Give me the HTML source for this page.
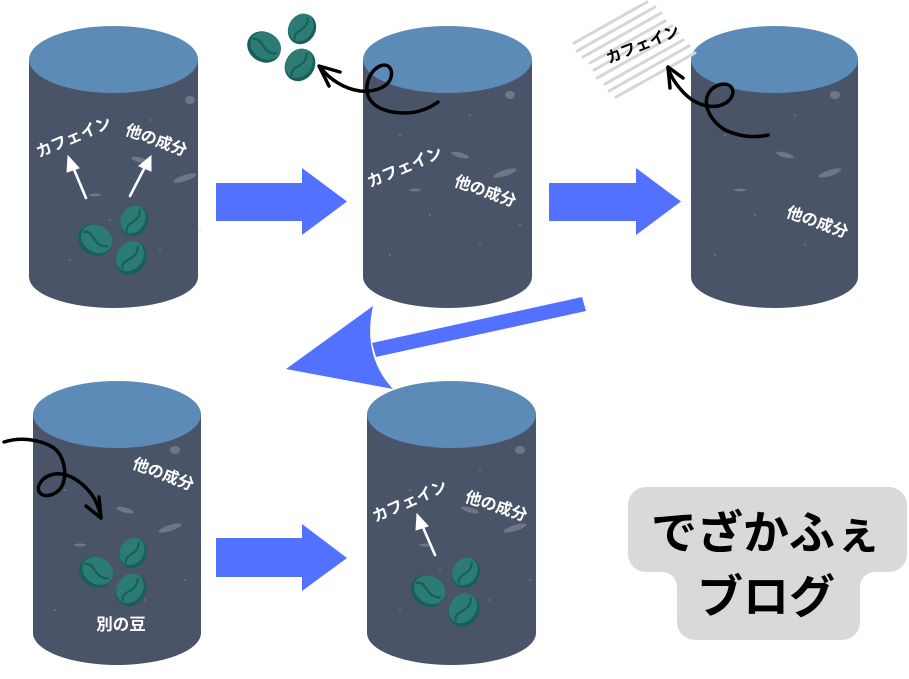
<!DOCTYPE html>
<html><head><meta charset="utf-8">
<style>
html,body{margin:0;padding:0;background:#fff;}
svg{display:block;}
.lbl{font-family:"Liberation Sans","Noto Sans CJK JP",sans-serif;font-weight:bold;fill:#fff;}
.logo{font-family:"Liberation Sans","Noto Sans CJK JP",sans-serif;font-weight:bold;fill:#000;}
</style></head>
<body>
<svg width="909" height="679" viewBox="0 0 909 679" xmlns="http://www.w3.org/2000/svg">
<defs>
  <g id="bean">
    <ellipse cx="0" cy="0" rx="17" ry="14.5" fill="#15605a"/>
    <ellipse cx="0.8" cy="-1.8" rx="15.6" ry="12.8" fill="#2c7b74"/>
    <path d="M-13 -1 C-6 -8, 2 7, 13 -1" fill="none" stroke="#15605a" stroke-width="2.2" stroke-linecap="round"/>
  </g>
  <g id="streaks" fill="#a3abb9" opacity="0.4">
    <ellipse cx="0" cy="0" rx="9" ry="2.5" transform="rotate(15)"/>
    <ellipse cx="45" cy="18" rx="12" ry="3" transform="rotate(-18 45 18)"/>
    <ellipse cx="-45" cy="35" rx="6" ry="1.5"/>
    <ellipse cx="50" cy="-60" rx="5" ry="4"/>
    <circle cx="-60" cy="-20" r="1"/><circle cx="-30" cy="60" r="1"/><circle cx="20" cy="90" r="1"/>
    <circle cx="-70" cy="100" r="1"/><circle cx="10" cy="-40" r="1"/><circle cx="60" cy="70" r="1"/>
  </g>
</defs>

<!-- Cylinder 1 -->
<path d="M29 59.5 L29 277 A84.5 31 0 0 0 198 277 L198 59.5 Z" fill="#4a5468"/>
<ellipse cx="113.5" cy="59.5" rx="84.5" ry="33.5" fill="#5d8bb7"/>
<use href="#streaks" x="140" y="160"/>
<!-- Cylinder 2 -->
<path d="M363 59.5 L363 277 A84.5 31 0 0 0 532 277 L532 59.5 Z" fill="#4a5468"/>
<ellipse cx="447.5" cy="59.5" rx="84.5" ry="33.5" fill="#5d8bb7"/>
<use href="#streaks" x="460" y="155"/>
<!-- Cylinder 3 -->
<path d="M691 59.5 L691 277 A83.5 31 0 0 0 858 277 L858 59.5 Z" fill="#4a5468"/>
<ellipse cx="774.5" cy="59.5" rx="83.5" ry="33.5" fill="#5d8bb7"/>
<use href="#streaks" x="785" y="155"/>
<!-- Cylinder 4 -->
<path d="M33 414.5 L33 633 A84 32 0 0 0 201 633 L201 414.5 Z" fill="#4a5468"/>
<ellipse cx="117" cy="414.5" rx="84" ry="33.5" fill="#5d8bb7"/>
<use href="#streaks" x="125" y="510"/>
<!-- Cylinder 5 -->
<path d="M367 414.5 L367 633 A84.5 32 0 0 0 536 633 L536 414.5 Z" fill="#4a5468"/>
<ellipse cx="451.5" cy="414.5" rx="84.5" ry="33.5" fill="#5d8bb7"/>
<use href="#streaks" x="470" y="510"/>

<!-- Blue arrows -->
<polygon points="216,183 302,183 302,168 347,201.5 302,235 302,221 216,221" fill="#5271ff"/>
<polygon points="549,183 636,183 636,168 681,201.5 636,235 636,221 549,221" fill="#5271ff"/>
<polygon points="216,538 302,538 302,524 347,558 302,591 302,577 216,577" fill="#5271ff"/>
<polygon points="372,343 582,297 586,311 376,357" fill="#5271ff"/>
<path d="M286 369 L373 306 Q362 356 393 389 Z" fill="#5271ff"/>

<!-- Beans cyl 1 -->
<use href="#bean" transform="translate(95 240) rotate(32) scale(1.05)"/>
<use href="#bean" transform="translate(134 221) rotate(-58) scale(0.93)"/>
<use href="#bean" transform="translate(131 258) rotate(-55) scale(1.02)"/>
<!-- Top beans -->
<use href="#bean" transform="translate(264 47) rotate(32) scale(1.03)"/>
<use href="#bean" transform="translate(302 29) rotate(-58) scale(0.93)"/>
<use href="#bean" transform="translate(300 65) rotate(-55) scale(1.0)"/>
<!-- Beans cyl 4 -->
<use href="#bean" transform="translate(96 572) rotate(32) scale(1.03)"/>
<use href="#bean" transform="translate(133 553) rotate(-58) scale(0.92)"/>
<use href="#bean" transform="translate(131 590) rotate(-55) scale(1.0)"/>
<!-- Beans cyl 5 -->
<use href="#bean" transform="translate(428 591) rotate(32) scale(1.05)"/>
<use href="#bean" transform="translate(466 573) rotate(-58) scale(0.93)"/>
<use href="#bean" transform="translate(464 610) rotate(-55) scale(1.02)"/>

<!-- White arrows -->
<g stroke="#fff" stroke-width="2.6" stroke-linecap="round" fill="#fff">
  <line x1="86" y1="198" x2="73" y2="167"/>
  <polygon points="68,156 79,168 67,172" stroke-width="1"/>
  <line x1="130" y1="196" x2="145" y2="167"/>
  <polygon points="151,156 151,171 139,166" stroke-width="1"/>
  <line x1="435" y1="555" x2="422" y2="525"/>
  <polygon points="417,514 428,526 416,530" stroke-width="1"/>
</g>

<!-- Hatch lines -->
<g stroke="#d6d6d6" stroke-width="3" stroke-linecap="round">
  <line x1="574" y1="43" x2="647" y2="2"/>
  <line x1="577" y1="51" x2="655" y2="7"/>
  <line x1="583" y1="57" x2="661" y2="13"/>
  <line x1="590" y1="63" x2="665" y2="21"/>
  <line x1="594" y1="70" x2="672" y2="26"/>
  <line x1="597" y1="78" x2="678" y2="33"/>
  <line x1="605" y1="84" x2="683" y2="40"/>
  <line x1="609" y1="91" x2="689" y2="46"/>
  <line x1="616" y1="97" x2="695" y2="53"/>
</g>

<!-- Labels -->
<text class="lbl" font-size="16" x="74" y="138" text-anchor="middle" dominant-baseline="central" transform="rotate(-23 74 138)">カフェイン</text>
<text class="lbl" font-size="16" x="156" y="141" text-anchor="middle" dominant-baseline="central" transform="rotate(20 156 141)">他の成分</text>
<text class="lbl" font-size="16" x="405" y="168" text-anchor="middle" dominant-baseline="central" transform="rotate(-23 405 168)">カフェイン</text>
<text class="lbl" font-size="16" x="485" y="192" text-anchor="middle" dominant-baseline="central" transform="rotate(19.5 485 192)">他の成分</text>
<text class="lbl" font-size="15.5" x="643" y="45" text-anchor="middle" dominant-baseline="central" transform="rotate(-22 643 45)" style="fill:#000">カフェイン</text>
<text class="lbl" font-size="16" x="817" y="223" text-anchor="middle" dominant-baseline="central" transform="rotate(19.5 817 223)">他の成分</text>
<text class="lbl" font-size="16" x="163" y="475" text-anchor="middle" dominant-baseline="central" transform="rotate(21 163 475)">他の成分</text>
<text class="lbl" font-size="16.5" x="121" y="625" text-anchor="middle" dominant-baseline="central">別の豆</text>
<text class="lbl" font-size="16" x="410" y="502" text-anchor="middle" dominant-baseline="central" transform="rotate(-24 410 502)">カフェイン</text>
<text class="lbl" font-size="16" x="496" y="507" text-anchor="middle" dominant-baseline="central" transform="rotate(18 496 507)">他の成分</text>

<!-- Black curly arrows -->
<g fill="none" stroke="#000" stroke-width="3.5" stroke-linecap="round" stroke-linejoin="round">
  <path d="M438 102 C430 108, 418 113, 405 113 C390 113, 375 109, 369 98 C364 88, 368 72, 380 66 C390 62, 394 72, 390 80 C385 89, 372 92, 360 91 C345 89, 330 80, 320 67"/>
  <path d="M340 72 L319 66 L329 86"/>
  <path d="M768 135 C755 138, 740 137, 725 130 C712 122, 704 108, 707 97 C710 87, 722 81, 730 86 C737 92, 731 103, 718 106 C705 108, 693 102, 685 94 C677 86, 671 77, 668 68"/>
  <path d="M683 78 L668 67 L670 88"/>
  <path d="M4 442 C20 437, 40 439, 54 448 C64 456, 67 472, 63 484 C59 494, 46 499, 40 493 C35 487, 42 476, 55 474 C70 472, 86 485, 94 498 C98 505, 100 512, 101 518"/>
  <path d="M86 506 L101 518 L99 497"/>
</g>

<!-- Logo -->
<g fill="#d9d9d9">
  <rect x="628" y="487" width="279" height="85" rx="18"/>
  <rect x="677" y="540" width="183" height="100" rx="18"/>
  <path d="M677 572 L662 572 A15 15 0 0 1 677 587 Z"/>
  <path d="M860 572 L875 572 A15 15 0 0 0 860 587 Z"/>
</g>
<text class="logo" font-size="46" x="766" y="533" text-anchor="middle" dominant-baseline="central">でざかふぇ</text>
<text class="logo" font-size="46" x="766" y="597" text-anchor="middle" dominant-baseline="central">ブログ</text>
</svg>
</body></html>
